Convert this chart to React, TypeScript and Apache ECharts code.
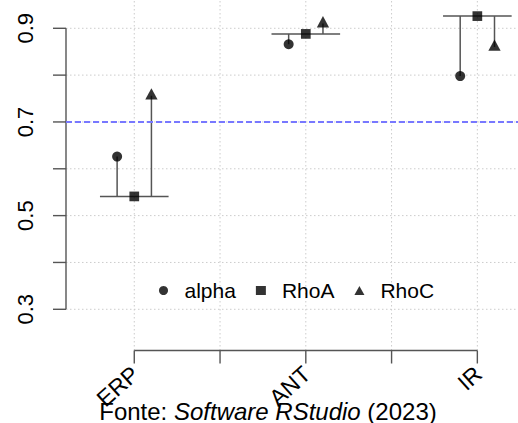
import React, { useEffect, useRef } from "react";
import * as echarts from "echarts";

const categories = ["ERP", "ANT", "IR"];
const alphaValues = [0.626, 0.866, 0.798];
const rhoAValues = [0.541, 0.888, 0.926];
const rhoCValues = [0.756, 0.91, 0.86];
const seriesNames = ["alpha", "RhoA", "RhoC"];
const yTicks = [0.3, 0.4, 0.5, 0.6, 0.7, 0.8, 0.9];
const yTickLabels = ["0.3", "0.5", "0.7", "0.9"];
const xTicks = [1, 1.5, 2, 2.5, 3];
const referenceValue = 0.7;
const captionParts = ["Fonte: ", "Software RStudio", " (2023)"];

const X_MIN = 0.602;
const X_MAX = 3.237;
const Y_MIN = 0.212;
const Y_MAX = 0.9604;
const FONT = "'Liberation Sans', Arial, Helvetica, sans-serif";
const AXIS_COLOR = "#555555";

export default function App() {
  const ref = useRef<HTMLDivElement>(null);

  useEffect(() => {
    if (!ref.current) return;
    const chart = echarts.init(ref.current, undefined, { renderer: "svg" });

    const frameRender = (_params: any, api: any) => {
      const children: any[] = [];
      const gridStyle = { stroke: "#cccccc", lineWidth: 1, lineDash: [1.5, 2.5] };
      yTicks.forEach((v) => {
        const a = api.coord([X_MIN, v]);
        const b = api.coord([X_MAX, v]);
        children.push({ type: "line", shape: { x1: a[0], y1: a[1], x2: b[0], y2: b[1] }, style: gridStyle });
      });
      xTicks.forEach((v) => {
        const a = api.coord([v, Y_MIN]);
        const b = api.coord([v, Y_MAX]);
        children.push({ type: "line", shape: { x1: a[0], y1: a[1], x2: b[0], y2: b[1] }, style: gridStyle });
      });
      const axisStyle = { stroke: AXIS_COLOR, lineWidth: 1.4 };
      // y axis
      const y0 = api.coord([X_MIN, yTicks[0]]);
      const y1 = api.coord([X_MIN, yTicks[yTicks.length - 1]]);
      children.push({ type: "line", shape: { x1: y0[0], y1: y0[1], x2: y1[0], y2: y1[1] }, style: axisStyle });
      yTicks.forEach((v) => {
        const p = api.coord([X_MIN, v]);
        children.push({ type: "line", shape: { x1: p[0] - 13, y1: p[1], x2: p[0], y2: p[1] }, style: axisStyle });
      });
      yTickLabels.forEach((l) => {
        const p = api.coord([X_MIN, parseFloat(l)]);
        children.push({
          type: "text",
          x: p[0] - 41,
          y: p[1],
          rotation: Math.PI / 2,
          style: { text: l, fontSize: 22, fontFamily: FONT, fill: "#000", align: "center", verticalAlign: "middle" },
        });
      });
      // x axis
      const x0 = api.coord([xTicks[0], Y_MIN]);
      const x1 = api.coord([xTicks[xTicks.length - 1], Y_MIN]);
      children.push({ type: "line", shape: { x1: x0[0], y1: x0[1], x2: x1[0], y2: x1[1] }, style: axisStyle });
      xTicks.forEach((v) => {
        const p = api.coord([v, Y_MIN]);
        children.push({ type: "line", shape: { x1: p[0], y1: p[1], x2: p[0], y2: p[1] + 13 }, style: axisStyle });
      });
      categories.forEach((c, i) => {
        const p = api.coord([i + 1, Y_MIN]);
        children.push({
          type: "text",
          x: p[0] + 1,
          y: p[1] + 20,
          rotation: (42 * Math.PI) / 180,
          style: { text: c, fontSize: 23, fontFamily: FONT, fill: "#000", align: "right", verticalAlign: "middle" },
        });
      });
      return { type: "group", children };
    };

    const stemRender = (params: any, api: any) => {
      const i = params.dataIndex;
      const cx = i + 1;
      const base = rhoAValues[i];
      const style = { stroke: AXIS_COLOR, lineWidth: 1.5 };
      const l = api.coord([cx - 0.2, base]);
      const r = api.coord([cx + 0.2, base]);
      const aTop = api.coord([cx - 0.1, alphaValues[i]]);
      const aBase = api.coord([cx - 0.1, base]);
      const cTop = api.coord([cx + 0.1, rhoCValues[i]]);
      const cBase = api.coord([cx + 0.1, base]);
      return {
        type: "group",
        children: [
          { type: "line", shape: { x1: l[0], y1: l[1], x2: r[0], y2: r[1] }, style },
          { type: "line", shape: { x1: aBase[0], y1: aBase[1], x2: aTop[0], y2: aTop[1] }, style },
          { type: "line", shape: { x1: cBase[0], y1: cBase[1], x2: cTop[0], y2: cTop[1] }, style },
        ],
      };
    };

    const option: any = {
      animation: false,
      grid: { left: 66, top: 0, width: 452, height: 350.5 },
      xAxis: { type: "value", min: X_MIN, max: X_MAX, show: false },
      yAxis: { type: "value", min: Y_MIN, max: Y_MAX, show: false },
      legend: {
        left: 159,
        top: 280,
        padding: 0,
        itemWidth: 10,
        itemHeight: 9,
        itemGap: 20,
        symbolKeepAspect: true,
        textStyle: { fontSize: 21, color: "#000", fontFamily: FONT, padding: [0, 0, 0, 11] },
        data: [
          { name: seriesNames[0], icon: "circle" },
          { name: seriesNames[1], icon: "rect" },
          { name: seriesNames[2], icon: "triangle" },
        ],
      },
      graphic: [
        {
          type: "text",
          x: 268,
          y: 411,
          style: {
            text: `{n|${captionParts[0]}}{i|${captionParts[1]}}{n|${captionParts[2]}}`,
            align: "center",
            verticalAlign: "middle",
            fill: "#000",
            rich: {
              n: { fontSize: 24, fontFamily: FONT, fill: "#000" },
              i: { fontSize: 24, fontFamily: FONT, fontStyle: "italic", fill: "#000" },
            },
          },
        },
      ],
      series: [
        {
          type: "custom",
          name: "frame",
          z: 1,
          clip: false,
          silent: true,
          data: [[0]],
          renderItem: frameRender,
        },
        {
          type: "line",
          name: "reference",
          z: 2,
          data: [],
          markLine: {
            silent: true,
            symbol: "none",
            label: { show: false },
            lineStyle: { color: "#7878ff", type: [6, 3], width: 2 },
            data: [{ yAxis: referenceValue }],
          },
        },
        {
          type: "custom",
          name: "stems",
          z: 3,
          clip: false,
          silent: true,
          data: categories.map((_, i) => [i + 1, rhoAValues[i]]),
          renderItem: stemRender,
        },
        {
          type: "scatter",
          name: seriesNames[0],
          z: 4,
          symbol: "circle",
          symbolSize: 10,
          itemStyle: { color: "#000" },
          data: alphaValues.map((v, i) => [i + 1 - 0.1, v]),
        },
        {
          type: "scatter",
          name: seriesNames[1],
          z: 4,
          symbol: "rect",
          symbolSize: 9.7,
          itemStyle: { color: "#000" },
          data: rhoAValues.map((v, i) => [i + 1, v]),
        },
        {
          type: "scatter",
          name: seriesNames[2],
          z: 4,
          symbol: "triangle",
          symbolSize: [12.3, 11.4],
          symbolOffset: [0, -1.9],
          itemStyle: { color: "#000" },
          data: rhoCValues.map((v, i) => [i + 1 + 0.1, v]),
        },
      ],
    };
    chart.setOption(option);
    return () => chart.dispose();
  }, []);

  return (
    <div
      ref={ref}
      style={{ position: "fixed", left: 0, top: 0, width: 518, height: 423, background: "#fff" }}
    />
  );
}
